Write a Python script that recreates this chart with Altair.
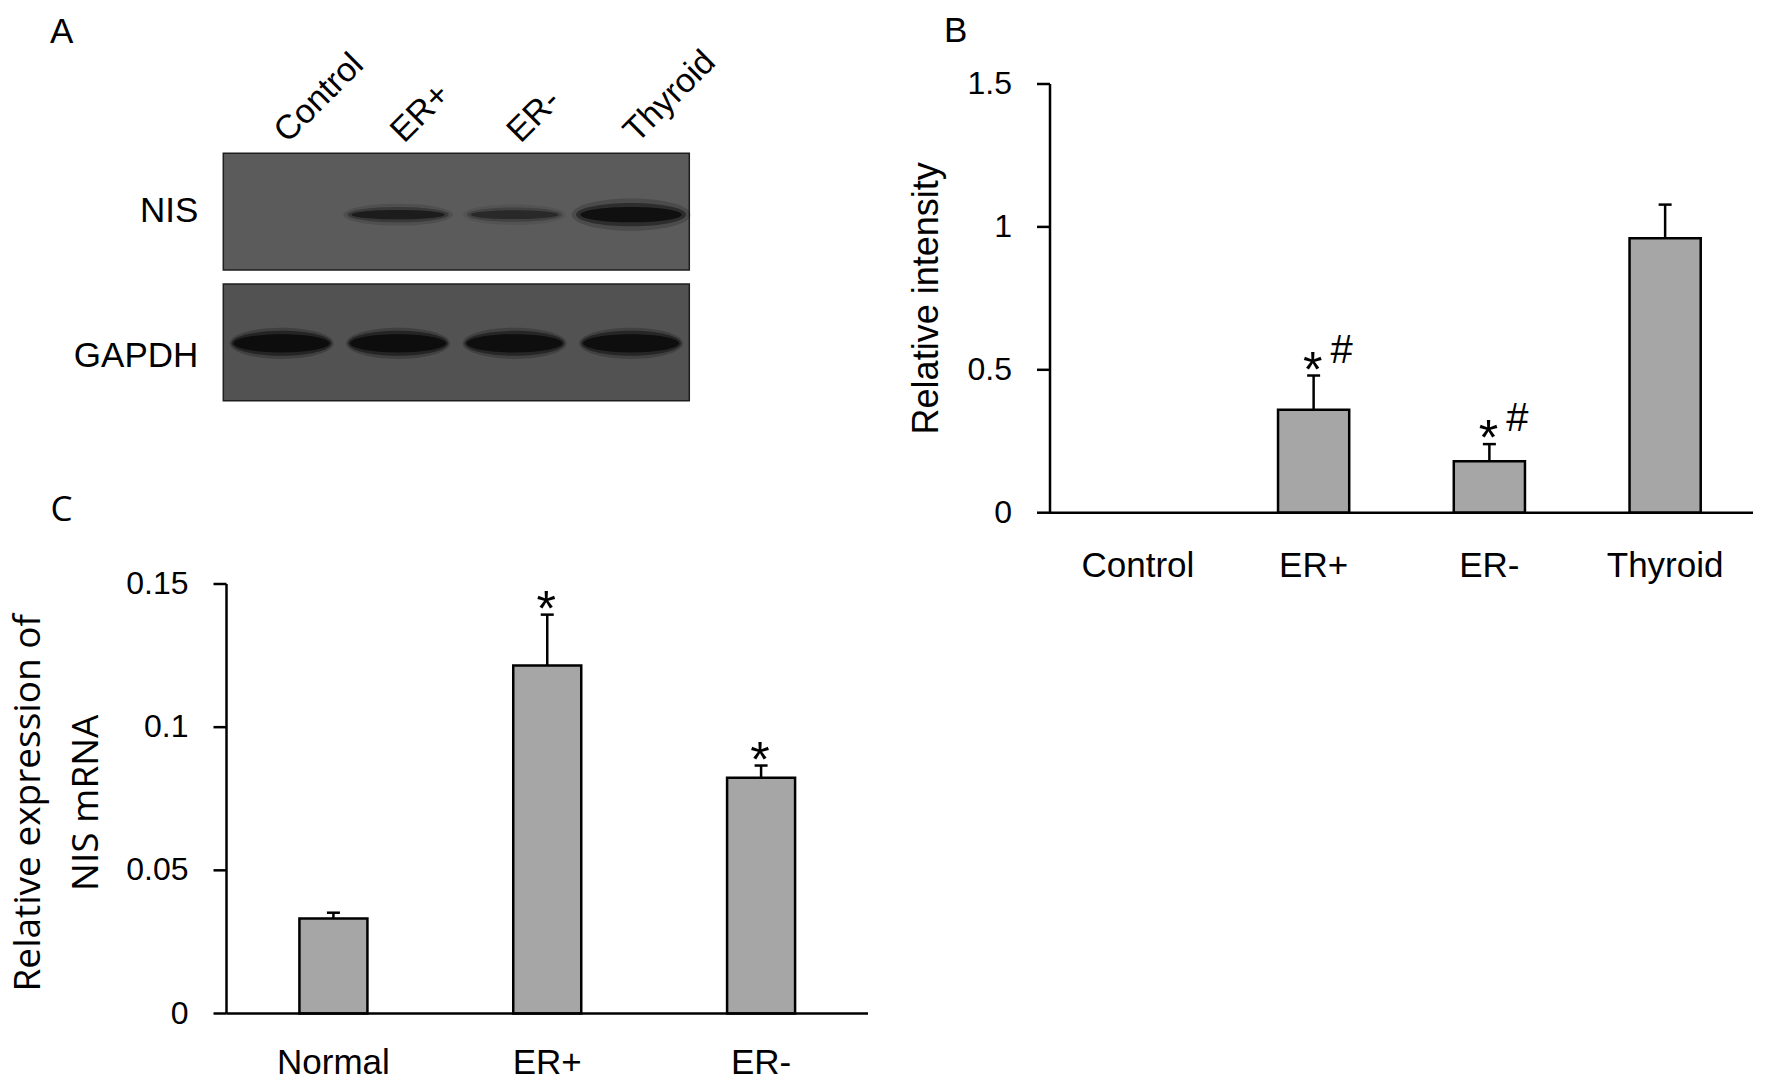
import altair as alt
import pandas as pd

# ---------------- data ----------------
LANES = ["Control", "ER+", "ER-", "Thyroid"]
BLOT_ROWS = ["NIS", "GAPDH"]
NIS_BAND = [0.0, 0.7, 0.5, 1.0]          # relative band darkness
GAPDH_BAND = [1.0, 1.0, 0.95, 0.95]

B_CATS = ["Control", "ER+", "ER-", "Thyroid"]
B_MEAN = [0.0, 0.36, 0.18, 0.96]
B_SEM = [0.0, 0.12, 0.06, 0.118]
B_SIG = ["", "*#", "*#", ""]
B_TICKS = [0, 0.5, 1, 1.5]
B_TICK_LABELS = ["0", "0.5", "1", "1.5"]

C_CATS = ["Normal", "ER+", "ER-"]
C_MEAN = [0.0332, 0.1215, 0.0823]
C_SEM = [0.0020, 0.0178, 0.0043]
C_SIG = ["", "*", "*"]
C_TICKS = [0, 0.05, 0.1, 0.15]
C_TICK_LABELS = ["0", "0.05", "0.1", "0.15"]

# ---------------- styling / layout ----------------
ARIAL = "Liberation Sans"
OPEN = "Open Sans"
BAR_FILL = "#a6a6a6"
LW = 2.5

B_XR = [1042, 1745]
B_YR = [504.7, 76]
C_XR = [218.5, 860]
C_YR = [1005.5, 576]
BLOT_XR = [215.3, 681.3]
BLOT_YR = [145.3, 392.7]

ONE = pd.DataFrame({"k": [0]})


def lin(domain, rng):
    return alt.Scale(type="linear", domain=domain, range=rng, nice=False, zero=False)


def bar_panel(cats, mean, sem, sig, ticks, tick_labels, xr, yr, ymax, pin, pout, label_dy):
    xs = alt.Scale(type="band", domain=cats, range=xr, paddingInner=pin, paddingOuter=pout)
    ys = lin([0, ymax], yr)
    fr = lin([0, 1], xr)
    df = pd.DataFrame({"cat": cats, "mean": mean, "sem": sem, "sig": sig})
    df["top"] = df["mean"] + df["sem"]
    dbar = df[df["mean"] > 0]
    de = df[df["sem"] > 0]
    dstar = df[df["sig"].str.contains(r"\*", regex=True)]
    dhash = df[df["sig"].str.contains("#")]
    tdf = pd.DataFrame({"v": ticks, "label": tick_labels})

    X = alt.X("cat:N", scale=xs, axis=None)
    layers = []
    layers.append(
        alt.Chart(dbar).mark_bar(fill=BAR_FILL, stroke="black", strokeWidth=LW).encode(
            x=X, y=alt.Y("mean:Q", scale=ys, axis=None)
        )
    )
    layers.append(
        alt.Chart(de).mark_rule(color="black", strokeWidth=LW).encode(
            x=X, y=alt.Y("mean:Q", scale=ys, axis=None), y2="top:Q"
        )
    )
    layers.append(
        alt.Chart(de).mark_tick(color="black", thickness=LW, size=13, opacity=1).encode(
            x=X, y=alt.Y("top:Q", scale=ys, axis=None)
        )
    )
    if len(dstar):
        layers.append(
            alt.Chart(dstar).mark_text(text="*", font=ARIAL, fontSize=50, dx=-1, dy=11,
                                       align="center", baseline="alphabetic", color="black").encode(
                x=X, y=alt.Y("top:Q", scale=ys, axis=None)
            )
        )
    if len(dhash):
        layers.append(
            alt.Chart(dhash).mark_text(text="#", font=ARIAL, fontSize=40, dx=28, dy=-13,
                                       align="center", baseline="alphabetic", color="black").encode(
                x=X, y=alt.Y("top:Q", scale=ys, axis=None)
            )
        )
    # axis lines
    layers.append(
        alt.Chart(ONE).mark_rule(color="black", strokeWidth=LW).encode(
            x=alt.X(datum=0, type="quantitative", scale=fr, axis=None),
            y=alt.Y(datum=0, type="quantitative", scale=ys, axis=None),
            y2=alt.Y2(datum=ymax),
        )
    )
    layers.append(
        alt.Chart(ONE).mark_rule(color="black", strokeWidth=LW).encode(
            x=alt.X(datum=0, type="quantitative", scale=fr, axis=None),
            x2=alt.X2(datum=1),
            y=alt.Y(datum=0, type="quantitative", scale=ys, axis=None),
        )
    )
    # tick marks
    layers.append(
        alt.Chart(tdf).mark_rule(color="black", strokeWidth=LW, x2Offset=-13).encode(
            x=alt.X(datum=0, type="quantitative", scale=fr, axis=None),
            x2=alt.X2(datum=0),
            y=alt.Y("v:Q", scale=ys, axis=None),
        )
    )
    # tick labels
    layers.append(
        alt.Chart(tdf).mark_text(font=ARIAL, fontSize=32, align="right", baseline="middle",
                                 dx=-38, color="black").encode(
            x=alt.X(datum=0, type="quantitative", scale=fr, axis=None),
            y=alt.Y("v:Q", scale=ys, axis=None),
            text="label:N",
        )
    )
    # category labels
    layers.append(
        alt.Chart(df).mark_text(font=ARIAL, fontSize=35, align="center", baseline="alphabetic",
                                dy=label_dy, color="black").encode(
            x=X,
            y=alt.Y(datum=0, type="quantitative", scale=ys, axis=None),
            text="cat:N",
        )
    )
    return layers, fr, ys


layers = []

# ---------------- panel B ----------------
b_layers, b_fr, b_ys = bar_panel(B_CATS, B_MEAN, B_SEM, B_SIG, B_TICKS, B_TICK_LABELS,
                                 B_XR, B_YR, 1.5, 0.595, 0.2975, 64)
layers += b_layers
layers.append(
    alt.Chart(ONE).mark_text(text="Relative intensity", font=ARIAL, fontSize=36, angle=270,
                             align="center", baseline="alphabetic", xOffset=-112,
                             color="black").encode(
        x=alt.X(datum=0, type="quantitative", scale=b_fr, axis=None),
        y=alt.Y(datum=0.75, type="quantitative", scale=b_ys, axis=None),
    )
)

# ---------------- panel C ----------------
c_layers, c_fr, c_ys = bar_panel(C_CATS, C_MEAN, C_SEM, C_SIG, C_TICKS, C_TICK_LABELS,
                                 C_XR, C_YR, 0.15, 0.682, 0.341, 60)
layers += c_layers
layers.append(
    alt.Chart(ONE).mark_text(text=["Relative expression of", "NIS mRNA"], font=OPEN,
                             fontSize=37, lineHeight=58, angle=270, align="center",
                             baseline="alphabetic", xOffset=-187, yOffset=4,
                             color="black").encode(
        x=alt.X(datum=0, type="quantitative", scale=c_fr, axis=None),
        y=alt.Y(datum=0.075, type="quantitative", scale=c_ys, axis=None),
    )
)

# ---------------- panel A (western blot) ----------------
lane_sc = alt.Scale(type="band", domain=LANES, range=BLOT_XR, paddingInner=0, paddingOuter=0)
row_sc = alt.Scale(type="band", domain=BLOT_ROWS, range=BLOT_YR, paddingInner=0.107, paddingOuter=0)
blot_fr = lin([0, 1], BLOT_XR)

layers.append(
    alt.Chart(pd.DataFrame({"row": BLOT_ROWS})).mark_rect(stroke="#1e1e1e", strokeWidth=1.5).encode(
        x=alt.X(datum=0, type="quantitative", scale=blot_fr, axis=None),
        x2=alt.X2(datum=1),
        y=alt.Y("row:N", scale=row_sc, axis=None),
        color=alt.Color("row:N", scale=alt.Scale(domain=BLOT_ROWS, range=["#5b5b5b", "#525252"]),
                        legend=None),
    )
)


def ellipse(r):
    return f"M -1 0 A 1 {r} 0 1 1 1 0 A 1 {r} 0 1 1 -1 0 Z"


nis_df = pd.DataFrame({"lane": LANES, "row": "NIS", "int": NIS_BAND})
nis_df["kind"] = ["strong" if v >= 0.8 else "weak" for v in NIS_BAND]
gap_df = pd.DataFrame({"lane": LANES, "row": "GAPDH", "int": GAPDH_BAND})

# NIS bands: soft halo -> core
for r_weak, r_strong, op_max, smul in [(0.2, 0.27, 0.22, 1.08), (0.15, 0.21, 0.5, 1.0),
                                       (0.1, 0.15, 1.0, 0.92)]:
    layers.append(
        alt.Chart(nis_df).mark_point(filled=True, color="#101010", strokeWidth=0,
                                     yOffset=3).encode(
            x=alt.X("lane:N", scale=lane_sc, axis=None),
            y=alt.Y("row:N", scale=row_sc, axis=None),
            shape=alt.Shape("kind:N", scale=alt.Scale(domain=["weak", "strong"],
                                                      range=[ellipse(r_weak), ellipse(r_strong)]),
                            legend=None),
            size=alt.Size("int:Q", scale=alt.Scale(domain=[0.3, 1],
                                                   range=[(88 * smul) ** 2, (110 * smul) ** 2],
                                                   clamp=True), legend=None),
            opacity=alt.Opacity("int:Q", scale=alt.Scale(domain=[0, 1], range=[0, op_max]),
                                legend=None),
        )
    )
# GAPDH bands
for r, op_max, w in [(0.3, 0.25, 104), (0.25, 0.55, 100), (0.19, 1.0, 96)]:
    layers.append(
        alt.Chart(gap_df).mark_point(filled=True, shape=ellipse(r), color="#0d0d0d",
                                     strokeWidth=0, size=w ** 2, yOffset=1).encode(
            x=alt.X("lane:N", scale=lane_sc, axis=None),
            y=alt.Y("row:N", scale=row_sc, axis=None),
            opacity=alt.Opacity("int:Q", scale=alt.Scale(domain=[0, 1], range=[0, op_max]),
                                legend=None),
        )
    )

# lane labels (rotated)
layers.append(
    alt.Chart(pd.DataFrame({"lane": LANES})).mark_text(font=ARIAL, fontSize=34, angle=315,
                                                       align="left", baseline="alphabetic",
                                                       xOffset=6, yOffset=-67.6,
                                                       color="black").encode(
        x=alt.X("lane:N", scale=lane_sc, axis=None),
        y=alt.Y(datum="NIS", type="nominal", scale=row_sc, axis=None),
        text="lane:N",
    )
)
# row labels
for row, dy in [("NIS", 10.4), ("GAPDH", 24.6)]:
    layers.append(
        alt.Chart(pd.DataFrame({"row": [row]})).mark_text(font=ARIAL, fontSize=35, align="right",
                                                          baseline="alphabetic", dx=-25, dy=dy,
                                                          color="black").encode(
            x=alt.X(datum=0, type="quantitative", scale=blot_fr, axis=None),
            y=alt.Y("row:N", scale=row_sc, axis=None),
            text="row:N",
        )
    )

# ---------------- panel letters ----------------
for letter, px, py, font in [("A", 42, 35, ARIAL), ("B", 936, 34, ARIAL), ("C", 42.5, 512.6, OPEN)]:
    layers.append(
        alt.Chart(ONE).mark_text(text=letter, font=font, fontSize=35, align="left",
                                 baseline="alphabetic", color="black").encode(
            x=alt.value(px), y=alt.value(py)
        )
    )

chart = (
    alt.layer(*layers)
    .resolve_scale(x="independent", y="independent", color="independent",
                   size="independent", opacity="independent", shape="independent")
    .properties(width=1756, height=1074, autosize=alt.AutoSizeParams(type="none"), padding=0,
                background="white")
    .configure_view(stroke=None)
)

chart.save("out.html", embed_options={"renderer": "svg", "actions": False})
